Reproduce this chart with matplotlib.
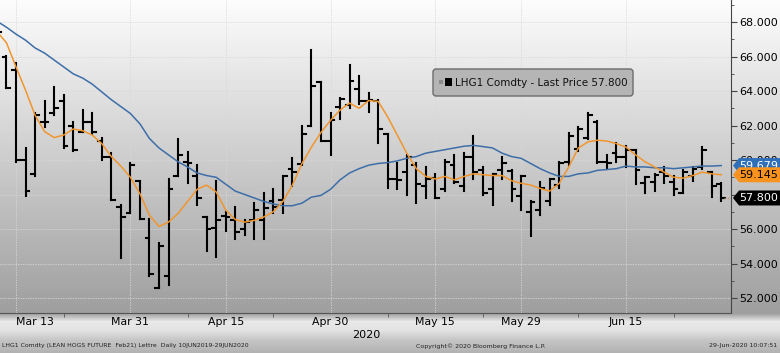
import matplotlib
matplotlib.use("Agg")
import matplotlib.pyplot as plt
import numpy as np
import pandas as pd
from matplotlib.collections import LineCollection
from matplotlib.patches import Polygon, FancyBboxPatch
from matplotlib.transforms import IdentityTransform
from matplotlib.ticker import FixedLocator, MultipleLocator, FuncFormatter

# trading days Mar 11 .. Jun 29 2020 (exchange closed Good Friday and Memorial Day)
days = pd.bdate_range("2020-03-11", "2020-06-29")
days = days[~days.isin(pd.to_datetime(["2020-04-10", "2020-05-25"]))]

opens = [68.2, 66.0, 65.2, 60.0, 59.2, 62.2, 62.7, 63.4, 62.0, 61.6, 62.2, 61.1,
         60.2, 57.3, 56.9, 58.8, 55.5, 52.6, 53.3, 59.1, 59.9, 59.1, 56.7, 56.05,
         56.75, 56.5, 56.0, 56.5, 56.5, 57.6, 57.7, 59.5, 59.75, 62.0, 64.5, 61.1,
         63.1, 63.2, 64.1, 63.4, 63.4, 61.5, 58.9, 59.3, 59.7, 58.5, 58.95, 58.3,
         59.7, 58.5, 60.2, 59.4, 58.3, 59.4, 59.35, 57.9, 57.0, 57.1, 57.6, 58.55,
         59.9, 60.65, 61.3, 62.2, 59.9, 60.4, 60.2, 60.6, 58.65, 58.7, 59.3, 58.7,
         58.1, 59.1, 59.6, 59.3, 58.6]
highs = [68.6, 66.05, 65.6, 60.7, 62.7, 63.4, 64.25, 63.8, 62.2, 62.9, 62.7, 61.3,
         60.4, 57.4, 59.8, 58.8, 56.6, 55.2, 58.9, 61.2, 60.45, 59.7, 56.7, 58.8,
         57.0, 57.25, 56.5, 57.5, 58.1, 58.3, 59.1, 60.1, 62.0, 66.4, 64.5, 62.7,
         63.6, 65.5, 64.9, 63.9, 63.5, 61.5, 59.8, 60.3, 59.8, 59.6, 59.2, 60.0,
         60.3, 60.4, 61.4, 59.6, 59.2, 60.15, 59.4, 59.1, 57.6, 58.7, 58.9, 59.9,
         61.55, 61.9, 62.75, 62.25, 60.3, 61.0, 60.8, 60.6, 59.0, 59.2, 59.6, 59.1,
         59.45, 59.6, 60.75, 59.3, 58.65]
lows = [67.2, 64.15, 59.9, 57.9, 59.1, 61.9, 62.6, 60.7, 60.5, 61.6, 61.5, 60.0,
        57.7, 54.3, 56.9, 56.6, 53.3, 52.6, 52.75, 59.1, 58.65, 57.4, 54.7, 54.4,
        55.9, 55.4, 55.65, 55.45, 55.4, 56.9, 56.9, 58.5, 59.7, 62.0, 61.1, 60.3,
        62.4, 63.0, 63.25, 62.8, 61.0, 58.4, 58.3, 58.0, 57.5, 57.8, 57.8, 58.2,
        58.65, 58.2, 58.9, 58.0, 57.4, 58.9, 57.6, 57.1, 55.6, 56.8, 57.4, 58.4,
        59.7, 60.5, 61.2, 59.8, 59.5, 59.9, 59.6, 58.6, 58.1, 58.2, 58.65, 58.0,
        58.1, 58.8, 59.5, 57.85, 57.6]
closes = [67.4, 64.2, 60.0, 58.2, 62.6, 62.2, 63.0, 60.8, 60.6, 62.2, 61.6, 60.2,
          57.7, 56.7, 59.7, 56.6, 53.4, 55.0, 58.3, 60.3, 59.85, 57.8, 56.0, 56.5,
          56.7, 55.8, 56.4, 57.1, 57.2, 57.3, 59.1, 59.3, 61.5, 64.3, 61.1, 62.3,
          63.55, 64.6, 63.4, 63.5, 61.8, 58.9, 58.85, 60.15, 58.6, 58.9, 57.8, 59.9,
          58.7, 60.2, 59.3, 58.1, 59.2, 59.8, 58.3, 59.1, 57.55, 58.4, 58.9, 59.8,
          61.4, 61.8, 62.6, 59.9, 59.8, 60.2, 60.6, 59.4, 59.0, 59.15, 59.05, 58.3,
          59.3, 59.5, 60.6, 58.5, 57.8]
ma_fast = [67.45, 66.8, 65.4, 64.05, 62.6, 61.65, 61.3, 61.45, 61.8, 61.7, 61.45, 60.95,
           60.2, 59.65, 59.0, 58.05, 56.8, 56.15, 56.4, 56.9, 57.6, 58.3, 58.55, 58.15,
           57.1, 56.55, 56.4, 56.5, 56.7, 57.0, 57.6, 58.55, 59.8, 60.75, 61.6, 62.3,
           62.9, 63.3, 63.0, 63.45, 63.4, 62.5, 61.45, 60.4, 59.5, 59.05, 58.9, 59.05,
           58.85, 59.05, 59.2, 59.15, 59.1, 59.1, 58.8, 58.65, 58.55, 58.35, 58.2, 58.65,
           59.6, 60.7, 61.05, 61.15, 61.1, 60.95, 60.75, 60.3, 59.9, 59.6, 59.3, 59.0,
           58.95, 59.1, 59.3, 59.2, 59.145]
ma_slow = [68.05, 67.7, 67.3, 66.95, 66.5, 66.2, 65.8, 65.4, 65.0, 64.75, 64.4, 63.95,
           63.5, 63.1, 62.7, 62.1, 61.25, 60.7, 60.3, 59.9, 59.6, 59.25, 59.1, 59.0,
           58.6, 58.2, 58.0, 57.8, 57.6, 57.45, 57.35, 57.35, 57.5, 57.85, 57.95, 58.3,
           58.85, 59.25, 59.5, 59.7, 59.8, 59.85, 59.95, 60.1, 60.2, 60.4, 60.5, 60.6,
           60.7, 60.8, 60.85, 60.78, 60.7, 60.4, 60.2, 60.1, 59.8, 59.5, 59.25, 59.05,
           59.05, 59.2, 59.25, 59.4, 59.45, 59.5, 59.65, 59.6, 59.6, 59.55, 59.55, 59.5,
           59.55, 59.6, 59.65, 59.65, 59.679]

tick_dates = ["2020-03-13", "2020-03-31", "2020-04-15", "2020-04-30",
              "2020-05-15", "2020-05-29", "2020-06-15"]
tick_labels = ["Mar 13", "Mar 31", "Apr 15", "Apr 30", "May 15", "May 29", "Jun 15"]
minor_dates = ["2020-03-20", "2020-04-08", "2020-04-22", "2020-05-08",
               "2020-05-22", "2020-06-08", "2020-06-22"]

W, H = 780, 353
fig = plt.figure(figsize=(W / 100, H / 100), dpi=100)
ID = IdentityTransform()

# background gradient (whole figure)
rows = np.arange(H)
lvl = np.interp(rows, [0, 313, 314, 321, 330, 340, 352], [252, 158, 168, 232, 226, 196, 178])
bg = fig.add_axes([0, 0, 1, 1], zorder=0)
bg.imshow(lvl[:, None], cmap="gray", vmin=0, vmax=255, aspect="auto", extent=[0, 1, 0, 1])
bg.axis("off")

ax = fig.add_axes([0, 40 / H, 731 / W, 313 / H], zorder=1)
ax.patch.set_visible(False)
x = np.arange(len(days))
assert len(x) == len(opens)

t = 0.4
segs = []
for i, (o, h, l, c) in enumerate(zip(opens, highs, lows, closes)):
    segs += [[(i, l), (i, h)], [(i - t, o), (i, o)], [(i, c), (i + t, c)]]
ax.add_collection(LineCollection(segs, colors="black", linewidths=1.5, capstyle="projecting", zorder=3))
ax.plot(x, ma_slow, color="#3d6ea8", lw=1.1, zorder=4)
ax.plot(x, ma_fast, color="#f0962e", lw=1.1, zorder=4)
ax.plot([x[-1] + 0.3, x[-1] + 1.2], [closes[-1]] * 2, ls=":", color="#d09050", lw=0.9, zorder=4)

ax.set_xlim(0.32, 77.02)
ax.set_ylim(51.13, 69.28)

major = days.get_indexer(pd.to_datetime(tick_dates))
minor = days.get_indexer(pd.to_datetime(minor_dates))
ax.xaxis.set_major_locator(FixedLocator(major))
ax.set_xticklabels(tick_labels, fontsize=7.8)
ax.xaxis.set_minor_locator(FixedLocator(minor))
ax.tick_params(axis="x", which="major", length=0, pad=3)
ax.tick_params(axis="x", which="minor", length=3, direction="out", color="#555555")
ax.get_xticklabels()[0].set_horizontalalignment("left")
ax.get_xticklabels()[0].set_x(major[0] - 0.5)

# 58.000 sits fully under the last-price tag, so its label is left blank
ax.yaxis.tick_right()
ax.yaxis.set_major_locator(MultipleLocator(2))
ax.yaxis.set_minor_locator(MultipleLocator(1))
ax.yaxis.set_major_formatter(FuncFormatter(lambda v, p: "" if abs(v - 58) < 1e-6 else f"{v:.3f}"))
ax.tick_params(axis="y", which="major", length=4, color="#444444", labelsize=8, pad=2)
ax.tick_params(axis="y", which="minor", length=2, color="#444444")

ax.grid(True, which="major", color="#d8d8d8", lw=0.6, ls=(0, (1.5, 1.5)))
for s in ["top", "left"]:
    ax.spines[s].set_visible(False)
ax.spines["right"].set_color("#444444")
ax.spines["bottom"].set_color("#555555")

# right-edge value tags
def tag(val, face, txt_color, z):
    yc = ax.transData.transform((0, val))[1]
    pts = [(733, yc), (739, yc + 7.5), (781, yc + 7.5), (781, yc - 7.5), (739, yc - 7.5)]
    fig.add_artist(Polygon(pts, closed=True, fc=face, ec="none", transform=ID, zorder=z))
    fig.text(778, yc - 0.5, f"{val:.3f}", ha="right", va="center", color=txt_color,
             fontsize=8, transform=ID, zorder=z + 0.5)

tag(ma_slow[-1], "#2f6fb8", "white", 5)
tag(ma_fast[-1], "#f7931e", "black", 6)
tag(closes[-1], "black", "white", 7)

# legend box
fig.add_artist(FancyBboxPatch((433, H - 96), 200, 27, boxstyle="round,pad=0,rounding_size=3",
                              fc="#b5b5b5", ec="#6c6c6c", lw=1, transform=ID, zorder=5))
fig.add_artist(Polygon([(439, H - 84), (443, H - 84), (443, H - 80), (439, H - 80)],
                       fc="#8c8c8c", ec="none", transform=ID, zorder=6))
fig.add_artist(Polygon([(445, H - 86), (452, H - 86), (452, H - 78), (445, H - 78)],
                       fc="black", ec="none", transform=ID, zorder=6))
fig.text(455, H - 82.5, "LHG1 Comdty - Last Price 57.800", ha="left", va="center",
         fontsize=7.5, color="#111111", transform=ID, zorder=6)

# footer
fig.text(366, H - 335, "2020", ha="center", va="center", fontsize=8, transform=ID)
fig.text(2, H - 346, "LHG1 Comdty (LEAN HOGS FUTURE  Feb21) Lettre  Daily 10JUN2019-29JUN2020",
         ha="left", va="center", fontsize=4.4, color="#222222", transform=ID)
fig.text(416, H - 346, "Copyright\u00a9 2020 Bloomberg Finance L.P.", ha="left", va="center",
         fontsize=4.5, color="#222222", transform=ID)
fig.text(777, H - 346, "29-Jun-2020 10:07:51", ha="right", va="center",
         fontsize=4.5, color="#222222", transform=ID)

fig.savefig("out.png", dpi=100)
